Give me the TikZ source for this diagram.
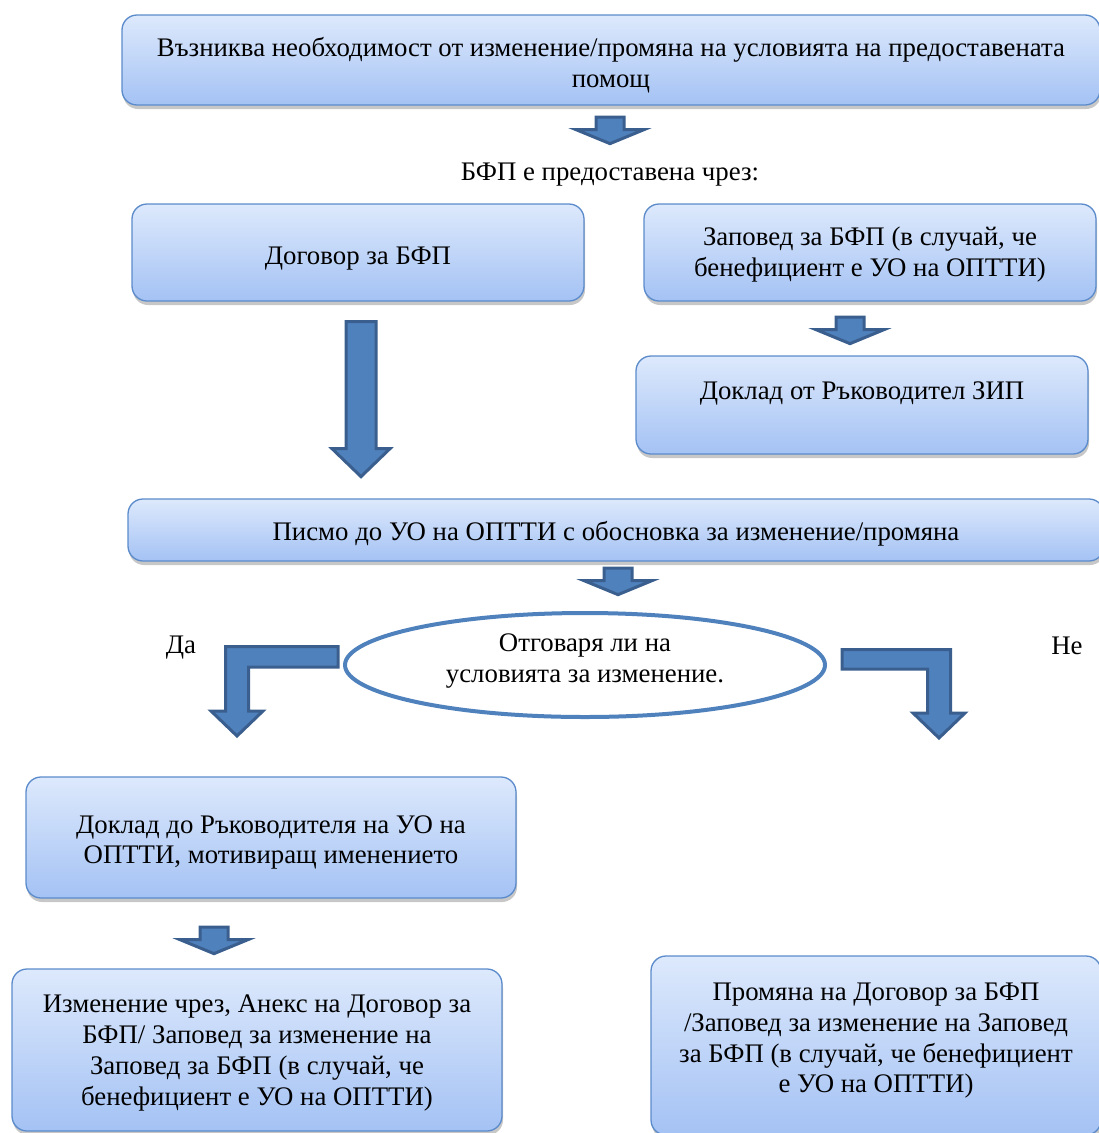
\documentclass[tikz,border=0pt]{standalone}
\usepackage{fontspec}
\setmainfont{Liberation Serif}
\usetikzlibrary{shadows,calc,shapes.geometric}
\definecolor{boxtop}{HTML}{DDE9FC}
\definecolor{boxbot}{HTML}{A4C2F4}
\definecolor{boxline}{HTML}{5B8BCB}
\definecolor{arrfill}{HTML}{4F81BD}
\definecolor{arrline}{HTML}{3A5F8E}
\definecolor{ellline}{HTML}{4F81BD}
\begin{document}
\begin{tikzpicture}[x=1pt,y=-1pt,
  font=\fontsize{26.8}{30.7}\selectfont,
  box/.style={draw=boxline, line width=1.3pt, rounded corners=15pt,
    top color=boxtop, bottom color=boxbot,
    drop shadow={shadow xshift=1pt, shadow yshift=-4pt, fill=black, opacity=0.22},
    inner sep=0pt},
  barrow/.style={fill=arrfill, draw=arrline, line width=3pt, line join=miter},
  lbl/.style={align=center, inner sep=0pt},
  sdown/.pic={\draw[barrow] (-14,1.5) -- (14,1.5) -- (14,14) -- (34,14) -- (0,28) -- (-34,14) -- (-14,14) -- cycle;}
]
\useasboundingbox (0,0) rectangle (1099,1133);
\clip (0,0) rectangle (1099,1133);

% boxes
\node[box, minimum width=978pt, minimum height=90pt] (b1) at (611,60) {};
\node[box, minimum width=452pt, minimum height=97pt] (b2) at (358,252.5) {};
\node[box, minimum width=452pt, minimum height=97pt] (b3) at (870,252.5) {};
\node[box, minimum width=452pt, minimum height=98pt] (b4) at (862,405) {};
\node[box, minimum width=976pt, minimum height=62pt] (b5) at (616,530) {};
\node[ellipse, draw=ellline, line width=4pt, fill=white, inner sep=0pt,
  minimum width=480pt, minimum height=104pt] (e) at (585,665) {};
\node[box, minimum width=490pt, minimum height=121pt] (b6) at (271,837.5) {};
\node[box, minimum width=490pt, minimum height=162pt] (b7) at (257,1050) {};
\node[box, minimum width=450pt, minimum height=179pt] (b8) at (876,1045.5) {};

% texts
\node[lbl] (t1) at ($(b1.center)+(0,5)$)
  {Възниква необходимост от изменение/промяна на условията на предоставената\\помощ};
\node[lbl] (q) at (610,175) {БФП е предоставена чрез:};
\node[lbl] (t2) at ($(b2.center)+(0,6)$) {Договор за БФП};
\node[lbl] (t3) at ($(b3.center)+(0,2)$) {Заповед за БФП (в случай, че\\бенефициент е УО на ОПТТИ)};
\node[lbl] (t4) at ($(b4.center)+(0,-11.5)$) {Доклад от Ръководител ЗИП};
\node[lbl] (t5) at ($(b5.center)+(0,3.5)$) {Писмо до УО на ОПТТИ с обосновка за изменение/промяна};
\node[lbl] (te) at ($(e.center)+(0,-4)$) {Отговаря ли на\\условията за изменение.};
\node[lbl] (da) at (181,648) {Да};
\node[lbl] (ne) at (1067,646) {Не};
\node[lbl] (t6) at ($(b6.center)+(0,5)$) {Доклад до Ръководителя на УО на\\ОПТТИ, мотивиращ именението};
\node[lbl] (t7) at ($(b7.center)+(0,3)$)
  {Изменение чрез, Анекс на Договор за\\БФП/ Заповед за изменение на\\Заповед за БФП (в случай, че\\бенефициент е УО на ОПТТИ)};
\node[lbl] (t8) at ($(b8.center)+(0,-4.5)$)
  {Промяна на Договор за БФП\\/Заповед за изменение на Заповед\\за БФП (в случай, че бенефициент\\е УО на ОПТТИ)};

% block arrows
\pic at ($(b1.south)+(-1,10)$) {sdown};
\pic at ($(b3.south)+(-20,14)$) {sdown};
\pic at ($(b5.south)+(2,5)$) {sdown};
\pic at ($(b6.south)+(-57,27)$) {sdown};

% big arrow from b2 to b5
\draw[barrow] ($(b2.south)+(3,20)$) ++(-15,0) -- ++(30,0) -- ++(0,127) -- ++(14,0)
  -- ++(-29,28) -- ++(-29,-28) -- ++(14,0) -- cycle;

% bent arrows from ellipse
\draw[barrow] (338,646.5) -- (225.5,646.5) -- (225.5,711) -- (211,711) -- (237,736)
  -- (263,711) -- (248.5,711) -- (248.5,667) -- (338,667) -- cycle;
\draw[barrow] (842,649.5) -- (950.5,649.5) -- (950.5,713) -- (965,713) -- (939,738)
  -- (913,713) -- (927.5,713) -- (927.5,669) -- (842,669) -- cycle;
\end{tikzpicture}
\end{document}
